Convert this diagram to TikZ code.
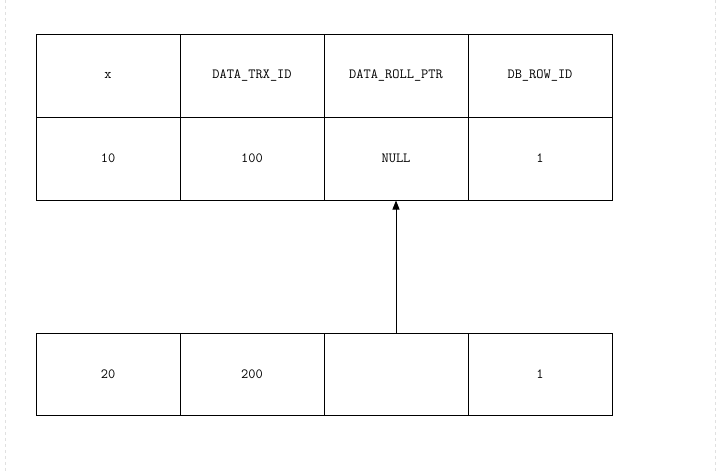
\documentclass[tikz,border=0pt]{standalone}
\usetikzlibrary{arrows.meta}
\begin{document}
\begin{tikzpicture}[x=1pt,y=-1pt,
  cell/.style={draw=black,line width=1pt,rectangle,minimum width=144pt,minimum height=83pt,inner sep=0pt,
    font=\ttfamily\fontsize{14}{16}\selectfont},
  edgeline/.style={draw=black!12,dashed,line width=0.8pt},
  ptr/.style={draw=black,line width=0.9pt,-{Triangle[width=7pt,length=9pt]}}]
\useasboundingbox (0,0) rectangle (722,471);
\fill[white] (0,0) rectangle (722,471);
\draw[edgeline] (5,0) -- (5,471);
\draw[edgeline] (715,0) -- (715,471);
% row 1
\node[cell] (a1) at (108,75.5) {x};
\node[cell] (b1) at (252,75.5) {DATA\_TRX\_ID};
\node[cell] (c1) at (396,75.5) {DATA\_ROLL\_PTR};
\node[cell] (d1) at (540,75.5) {DB\_ROW\_ID};
% row 2
\node[cell] (a2) at (108,158.5) {10};
\node[cell] (b2) at (252,158.5) {100};
\node[cell] (c2) at (396,158.5) {NULL};
\node[cell] (d2) at (540,158.5) {1};
% row 3
\node[cell,minimum height=82pt] (a3) at (108,374) {20};
\node[cell,minimum height=82pt] (b3) at (252,374) {200};
\node[cell,minimum height=82pt] (c3) at (396,374) {};
\node[cell,minimum height=82pt] (d3) at (540,374) {1};
\draw[ptr] (c3.north) -- (c2.south);
\end{tikzpicture}
\end{document}
